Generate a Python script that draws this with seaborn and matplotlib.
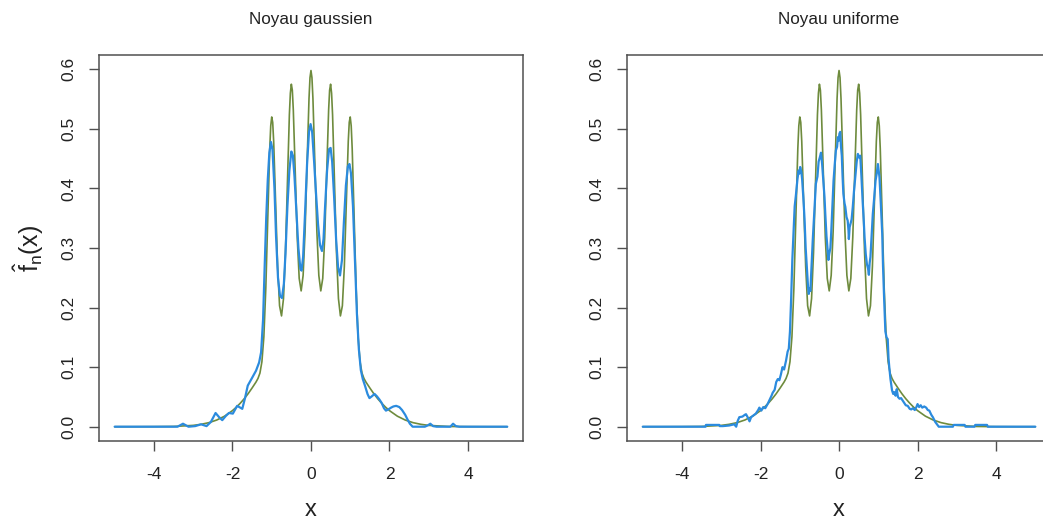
import seaborn
import matplotlib.pyplot as pyplt

# true density (green)
true_x = [-5.0, -4.5, -4.0, -3.5, -3.0, -2.8, -2.6, -2.4, -2.2, -2.0, -1.9, -1.8, -1.7, -1.6,
          -1.5, -1.45, -1.4, -1.35, -1.3, -1.25, -1.2, -1.15, -1.1, -1.05, -1.025, -1.0, -0.975,
          -0.95, -0.9, -0.85, -0.8, -0.75, -0.7, -0.65, -0.6, -0.55, -0.525, -0.5, -0.475,
          -0.45, -0.4, -0.35, -0.3, -0.25, -0.2, -0.15, -0.1, -0.05, -0.025, 0.0, 0.025,
          0.05, 0.1, 0.15, 0.2, 0.25, 0.3, 0.35, 0.4, 0.45, 0.475, 0.5, 0.525, 0.55, 0.6,
          0.65, 0.7, 0.75, 0.8, 0.85, 0.9, 0.95, 0.975, 1.0, 1.025, 1.05, 1.1, 1.15, 1.2,
          1.25, 1.3, 1.35, 1.4, 1.45, 1.5, 1.6, 1.7, 1.8, 1.9, 2.0, 2.2, 2.4, 2.6, 2.8, 3.0,
          3.5, 4.0, 4.5, 5.0]
true_y = [0.0, 0.0, 0.0001, 0.0004, 0.0022, 0.0040, 0.0068, 0.0112, 0.0177, 0.0270, 0.0328,
          0.0395, 0.0470, 0.0555, 0.065, 0.070, 0.075, 0.081, 0.090, 0.109, 0.151, 0.233,
          0.351, 0.467, 0.505, 0.520, 0.511, 0.479, 0.375, 0.269, 0.203, 0.186, 0.215, 0.292,
          0.409, 0.524, 0.560, 0.575, 0.565, 0.532, 0.426, 0.318, 0.249, 0.228, 0.254, 0.328,
          0.441, 0.551, 0.586, 0.598, 0.586, 0.551, 0.441, 0.328, 0.254, 0.228, 0.249, 0.318,
          0.426, 0.532, 0.565, 0.575, 0.560, 0.524, 0.409, 0.292, 0.215, 0.186, 0.203, 0.269,
          0.375, 0.479, 0.511, 0.520, 0.505, 0.467, 0.351, 0.233, 0.151, 0.109, 0.090, 0.081,
          0.075, 0.070, 0.065, 0.0555, 0.0470, 0.0395, 0.0328, 0.0270, 0.0177, 0.0112, 0.0068,
          0.0040, 0.0022, 0.0004, 0.0001, 0.0, 0.0]

# gaussian kernel estimate (blue, left panel)
gauss_x = [-5.0, -3.40, -3.26, -3.12, -2.95, -2.80, -2.66, -2.55, -2.43, -2.34, -2.26, -2.17,
           -2.09, -1.99, -1.88, -1.80, -1.75, -1.68, -1.61, -1.50, -1.40, -1.32, -1.27, -1.22,
           -1.18, -1.14, -1.10, -1.06, -1.02, -0.98, -0.93, -0.89, -0.84, -0.79, -0.74, -0.69,
           -0.65, -0.60, -0.55, -0.50, -0.46, -0.42, -0.37, -0.32, -0.27, -0.24, -0.20, -0.15,
           -0.10, -0.05, -0.01, 0.03, 0.08, 0.13, 0.18, 0.23, 0.28, 0.32, 0.36, 0.41, 0.46,
           0.50, 0.54, 0.59, 0.64, 0.69, 0.74, 0.79, 0.84, 0.89, 0.94, 0.98, 1.02, 1.07, 1.12,
           1.17, 1.22, 1.27, 1.32, 1.38, 1.44, 1.49, 1.55, 1.62, 1.68, 1.74, 1.80, 1.86, 1.91,
           1.97, 2.04, 2.10, 2.17, 2.25, 2.32, 2.40, 2.46, 2.52, 2.59, 2.90, 2.97, 3.04, 3.11,
           3.20, 3.55, 3.62, 3.69, 3.78, 5.0]
gauss_y = [0.0, 0.0, 0.005, 0.0, 0.001, 0.004, 0.001, 0.008, 0.023, 0.016, 0.011, 0.018,
           0.023, 0.022, 0.035, 0.032, 0.030, 0.048, 0.069, 0.082, 0.094, 0.108, 0.125, 0.180,
           0.268, 0.350, 0.415, 0.460, 0.478, 0.465, 0.400, 0.320, 0.250, 0.220, 0.216, 0.240,
           0.290, 0.370, 0.430, 0.462, 0.455, 0.420, 0.360, 0.300, 0.265, 0.262, 0.285, 0.360,
           0.440, 0.495, 0.508, 0.495, 0.445, 0.390, 0.340, 0.305, 0.295, 0.315, 0.370, 0.430,
           0.466, 0.468, 0.445, 0.385, 0.315, 0.268, 0.254, 0.280, 0.345, 0.405, 0.437, 0.441,
           0.425, 0.370, 0.280, 0.190, 0.130, 0.095, 0.080, 0.068, 0.055, 0.048, 0.051, 0.055,
           0.051, 0.046, 0.040, 0.031, 0.027, 0.029, 0.032, 0.034, 0.035, 0.033, 0.028, 0.020,
           0.012, 0.005, 0.0, 0.0, 0.002, 0.005, 0.001, 0.0, 0.0, 0.005, 0.001, 0.0, 0.0]

# uniform kernel estimate (blue, right panel)
unif_x = [-5.0, -3.40, -3.39, -3.05, -3.04, -2.96, -2.80, -2.67, -2.62, -2.58, -2.54, -2.46,
          -2.40, -2.37, -2.32, -2.28, -2.24, -2.20, -2.12, -2.06, -2.03, -1.98, -1.93, -1.88,
          -1.82, -1.77, -1.72, -1.69, -1.64, -1.60, -1.56, -1.52, -1.48, -1.44, -1.40, -1.35,
          -1.31, -1.28, -1.25, -1.22, -1.19, -1.16, -1.13, -1.10, -1.06, -1.03, -1.01, -0.99,
          -0.96, -0.94, -0.91, -0.88, -0.85, -0.82, -0.79, -0.77, -0.75, -0.73, -0.70, -0.67,
          -0.63, -0.59, -0.55, -0.52, -0.49, -0.46, -0.43, -0.40, -0.37, -0.35, -0.32, -0.29,
          -0.27, -0.25, -0.22, -0.20, -0.17, -0.14, -0.11, -0.08, -0.05, -0.03, -0.01, 0.01,
          0.03, 0.05, 0.07, 0.09, 0.11, 0.14, 0.16, 0.19, 0.22, 0.24, 0.25, 0.27, 0.29, 0.32,
          0.35, 0.38, 0.42, 0.45, 0.48, 0.51, 0.54, 0.57, 0.60, 0.63, 0.65, 0.68, 0.71, 0.74,
          0.76, 0.78, 0.80, 0.83, 0.86, 0.89, 0.93, 0.96, 0.99, 1.01, 1.03, 1.06, 1.08, 1.10,
          1.12, 1.15, 1.18, 1.21, 1.24, 1.26, 1.28, 1.31, 1.35, 1.38, 1.41, 1.44, 1.47, 1.50,
          1.54, 1.58, 1.62, 1.66, 1.70, 1.75, 1.80, 1.84, 1.88, 1.93, 1.97, 2.00, 2.04, 2.08,
          2.12, 2.17, 2.22, 2.26, 2.30, 2.35, 2.39, 2.45, 2.54, 2.90, 2.92, 3.20, 3.22, 3.45,
          3.47, 3.77, 3.79, 5.0]
unif_y = [0.0, 0.0, 0.003, 0.003, 0.001, 0.001, 0.002, 0.004, 0.0, 0.010, 0.016, 0.017,
          0.020, 0.021, 0.015, 0.009, 0.016, 0.018, 0.022, 0.028, 0.032, 0.027, 0.033, 0.031,
          0.038, 0.045, 0.052, 0.057, 0.062, 0.075, 0.080, 0.078, 0.088, 0.100, 0.096, 0.111,
          0.126, 0.131, 0.160, 0.215, 0.280, 0.324, 0.370, 0.388, 0.415, 0.430, 0.425, 0.436,
          0.428, 0.415, 0.385, 0.350, 0.300, 0.268, 0.235, 0.223, 0.232, 0.228, 0.270, 0.313,
          0.360, 0.408, 0.420, 0.445, 0.452, 0.460, 0.440, 0.413, 0.385, 0.357, 0.320, 0.295,
          0.280, 0.290, 0.300, 0.325, 0.370, 0.413, 0.440, 0.464, 0.470, 0.486, 0.480, 0.492,
          0.495, 0.470, 0.455, 0.420, 0.391, 0.375, 0.369, 0.352, 0.346, 0.330, 0.315, 0.335,
          0.340, 0.348, 0.369, 0.395, 0.424, 0.445, 0.458, 0.452, 0.455, 0.420, 0.380, 0.345,
          0.318, 0.290, 0.273, 0.265, 0.255, 0.275, 0.285, 0.320, 0.357, 0.380, 0.413, 0.425,
          0.441, 0.430, 0.419, 0.380, 0.350, 0.324, 0.270, 0.212, 0.160, 0.150, 0.147, 0.115,
          0.100, 0.080, 0.061, 0.055, 0.058, 0.052, 0.063, 0.050, 0.047, 0.048, 0.044, 0.040,
          0.036, 0.035, 0.030, 0.029, 0.031, 0.028, 0.033, 0.038, 0.033, 0.036, 0.032, 0.034,
          0.032, 0.028, 0.027, 0.020, 0.016, 0.008, 0.0, 0.0, 0.003, 0.003, 0.0, 0.0, 0.003,
          0.003, 0.0, 0.0]

titles = ['Noyau gaussien', 'Noyau uniforme']
x_ticks = [-4, -2, 0, 2, 4]
y_ticks = [0.0, 0.1, 0.2, 0.3, 0.4, 0.5, 0.6]

GREEN = '#6E8B3D'
BLUE = '#2B8BDE'
FRAME = '#505050'
TEXT = '#222222'

seaborn.set_theme(style='white')
pyplt.rcParams['font.family'] = ['Liberation Sans', 'DejaVu Sans']
pyplt.rcParams['mathtext.fontset'] = 'custom'
pyplt.rcParams['mathtext.rm'] = 'Liberation Sans'
pyplt.rcParams['mathtext.it'] = 'Liberation Sans'

fig = pyplt.figure(figsize=(10.43, 5.25), dpi=100)
axes = [
    fig.add_axes([0.0949, 0.160, 0.4065, 0.7352]),
    fig.add_axes([0.6012, 0.160, 0.4065, 0.7352]),
]
estimates = [(gauss_x, gauss_y), (unif_x, unif_y)]

for i, ax in enumerate(axes):
    seaborn.lineplot(x=true_x, y=true_y, ax=ax, color=GREEN, linewidth=1.2,
                     estimator=None, sort=False)
    est_x, est_y = estimates[i]
    seaborn.lineplot(x=est_x, y=est_y, ax=ax, color=BLUE, linewidth=1.6,
                     estimator=None, sort=False)
    ax.set_xlim(-5.4, 5.4)
    ax.set_ylim(-0.024, 0.624)
    ax.set_xticks(x_ticks)
    ax.set_xticklabels([str(t) for t in x_ticks])
    ax.set_yticks(y_ticks)
    ax.set_yticklabels([f'{t:.1f}' for t in y_ticks], rotation=90, va='center')
    ax.tick_params(axis='both', length=7, width=1, color=FRAME, labelsize=12.5,
                   labelcolor=TEXT, bottom=True, left=True)
    ax.tick_params(axis='x', pad=12)
    ax.tick_params(axis='y', pad=9)
    for spine in ax.spines.values():
        spine.set_visible(True)
        spine.set_color(FRAME)
        spine.set_linewidth(1.1)
    ax.set_title(titles[i], fontsize=12.3, color=TEXT, pad=22)
    ax.set_xlabel('x', fontsize=17, color=TEXT, labelpad=12)
    if i == 0:
        ax.set_ylabel(r'$\hat{f}_n(x)$', fontsize=18, color=TEXT, labelpad=11)
    else:
        ax.set_ylabel('')

fig.savefig('out.png', dpi=100)
